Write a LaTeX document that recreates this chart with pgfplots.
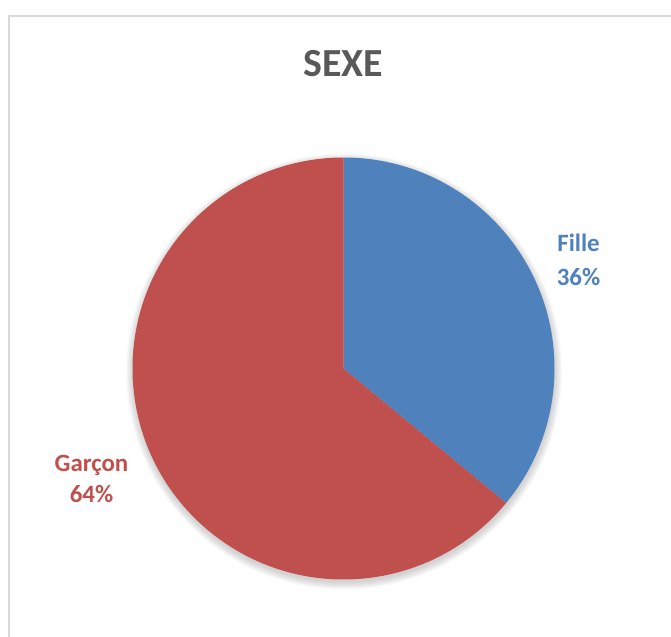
\documentclass[border=0pt]{standalone}
\usepackage{pgfplots}
\pgfplotsset{compat=1.18}
\usepackage{pgfplotstable}
\usepackage{fontspec}
\setmainfont{Carlito}
\definecolor{fille}{HTML}{4F81BD}
\definecolor{garcon}{HTML}{C0504D}
\definecolor{titlegray}{HTML}{595959}
\definecolor{framegray}{HTML}{D9D9D9}
% Data: percentage per category
\pgfplotstableread{
label value
Fille 36
Garcon 64
}\sexdata
\pgfplotstablegetelem{0}{value}\of\sexdata
\let\vFille\pgfplotsretval
\pgfplotstablegetelem{1}{value}\of\sexdata
\let\vGarcon\pgfplotsretval
\pgfmathsetmacro{\aEnd}{90-3.6*\vFille}
\pgfmathsetmacro{\bEnd}{\aEnd-3.6*\vGarcon}
\begin{document}
\begin{tikzpicture}
\path[use as bounding box] (0,0) rectangle (671bp,637bp);
\begin{axis}[
  at={(0,0)}, anchor=south west, scale only axis,
  x=1bp, y=1bp, xmin=0, xmax=671, ymin=0, ymax=637,
  hide axis, clip=false
]
% frame
\draw[framegray, line width=1.3bp] (axis cs:9,-5) -- (axis cs:9,621) -- (axis cs:680,621);
% soft shadow
\fill[black, opacity=0.022] (axis cs:344,265.5) circle[radius=211bp];
\fill[black, opacity=0.022] (axis cs:344,265.5) circle[radius=212bp];
\fill[black, opacity=0.022] (axis cs:344,265.5) circle[radius=213bp];
\fill[black, opacity=0.022] (axis cs:344,265.5) circle[radius=214bp];
\fill[black, opacity=0.022] (axis cs:344,265.5) circle[radius=215bp];
\fill[black, opacity=0.022] (axis cs:344,265.5) circle[radius=216bp];
\fill[black, opacity=0.022] (axis cs:344,265.5) circle[radius=217bp];
\fill[black, opacity=0.022] (axis cs:344,265.5) circle[radius=218bp];
% Fille slice
\fill[fille] (axis cs:343.5,268.5) -- ++(90:211bp) arc[start angle=90, end angle=\aEnd, radius=211bp] -- cycle;
% Garcon slice
\fill[garcon] (axis cs:343.5,268.5) -- ++(\aEnd:211bp) arc[start angle=\aEnd, end angle=\bEnd, radius=211bp] -- cycle;
% title
\node[anchor=base, text=titlegray, font=\fontsize{40}{48}\selectfont\bfseries] at (axis cs:343,560) {SEXE};
% labels
\node[anchor=base, text=fille, font=\fontsize{25}{30}\selectfont\bfseries] at (axis cs:578.5,385) {Fille};
\node[anchor=base, text=fille, font=\fontsize{25}{30}\selectfont\bfseries] at (axis cs:578.5,351) {\vFille\%};
\node[anchor=base, text=garcon, font=\fontsize{25}{30}\selectfont\bfseries] at (axis cs:91.5,165) {Garçon};
\node[anchor=base, text=garcon, font=\fontsize{25}{30}\selectfont\bfseries] at (axis cs:91.5,134) {\vGarcon\%};
\end{axis}
\end{tikzpicture}
\end{document}
